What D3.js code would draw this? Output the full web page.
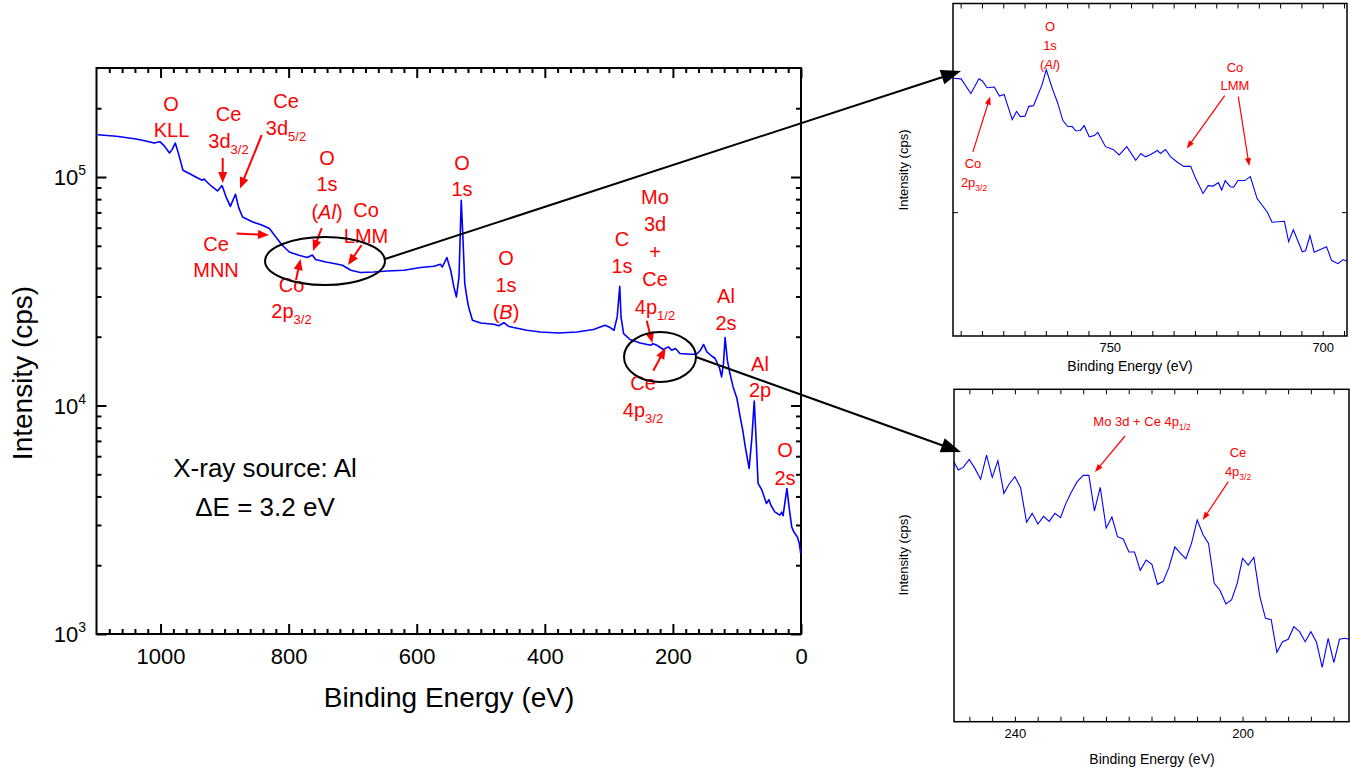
<!DOCTYPE html>
<html>
<head>
<meta charset="utf-8">
<script src="https://cdn.jsdelivr.net/npm/d3@7"></script>
<style>
  body { margin: 0; background: #fff; }
  svg { font-family: "Liberation Sans", Arial, sans-serif; }
</style>
</head>
<body>
<script>
// survey spectrum (binding energy in eV, counts per second)
var surveyEnergy = [1098, 1069, 1038, 1023, 1010, 1001, 995, 986, 982, 977, 972, 965, 953, 945, 935, 932, 926, 919, 911, 904,
  898, 891, 883, 878, 872, 856, 841, 830, 820, 810, 799, 784, 771, 763, 758, 742, 729, 716, 703, 688,
  667, 646, 620, 594, 573, 563, 560, 553, 547, 542, 538, 534, 530.5, 527.7, 525, 521, 519, 513, 500, 480,
  472, 464, 457, 449, 428, 407, 378, 350, 324, 306, 298, 292, 287, 283, 281, 277, 267, 251, 235, 231,
  225, 215, 207, 202, 196, 189, 173, 163, 157, 152, 147, 139, 134, 127, 124, 121, 118.5, 115, 111, 106,
  100, 95, 91, 87, 81, 77, 73, 70, 67, 61, 54, 50, 47, 41, 33, 30, 28, 22, 19, 14.5,
  11.7, 9.4, 5.8, 2.6, 0.5];
var surveyCounts = [153000, 150700, 146600, 143700, 140800, 142800, 137600, 127400, 131800, 140800, 126600, 107000, 102750, 100000, 96740, 98000, 94130, 90440, 86890, 91720,
  82340, 74430, 84010, 73470, 66830, 63550, 61480, 59470, 54640, 50260, 46980, 45460, 44410, 45590, 43530, 42490, 41810, 41100, 39080, 38180,
  38410, 38800, 39080, 40150, 40680, 41500, 40390, 44410, 39080, 33020, 29860, 36530, 79070, 52860, 34180, 28880, 27000, 23610, 22980, 22680,
  22340, 23030, 22230, 21940, 21350, 20990, 20780, 20990, 21500, 22460, 21940, 21350, 24420, 33260, 24420, 20650, 19450, 18790, 18360, 18640,
  18360, 17580, 18050, 17460, 17760, 16880, 16760, 16760, 17460, 18490, 17160, 16430, 16060, 14520, 13340, 15310, 19840, 15790, 13800, 12060,
  10730, 8916, 7798, 6591, 5302, 7051, 10470, 7051, 4558, 4261, 3727, 3872, 3664, 3424, 3312, 3414, 3296, 4335, 3664, 2944,
  2819, 2754, 2662, 2490, 2252];

// zoom on the Co 2p / Co LMM region
var zoomAEnergy = [786.8, 784.9, 782.6, 780.7, 779.9, 778.8, 777.1, 775.9, 774.8, 772.9, 771.9, 771.0, 769.9, 769.0, 767.9, 765.9, 764.9, 763.5, 762.3, 761.0,
  759.9, 758.8, 758.0, 756.9, 756.0, 754.8, 753.6, 752.8, 751.0, 749.2, 747.8, 746.0, 743.9, 742.7, 741.6, 740.4, 738.8, 738.1, 736.9, 735.7,
  734.1, 732.6, 731.0, 729.9, 728.1, 726.9, 725.7, 724.5, 723.7, 722.9, 721.7, 720.9, 719.9, 718.3, 717.0, 715.4, 713.0, 711.9, 709.0, 708.0,
  706.9, 704.8, 704.0, 703.0, 702.0, 699.1, 697.9, 696.4, 695.2, 694.3];
var zoomACounts = [45792, 45764, 45094, 45764, 45667, 45355, 45387, 44972, 45049, 43921, 44282, 44054, 44072, 44511, 44542, 45483, 46187, 45327, 44709, 43877,
  43621, 43607, 43427, 43440, 43651, 43160, 43217, 43353, 42735, 42615, 42383, 42735, 42152, 42443, 42297, 42400, 42572, 42443, 42615, 42297,
  42067, 41894, 41894, 41410, 40763, 41085, 41068, 41210, 40903, 41297, 41043, 41027, 41297, 41297, 41464, 40553, 40000, 39594, 39634, 38826,
  39295, 38432, 38482, 39066, 38416, 38630, 38092, 37973, 38130, 38065];

// zoom on the Mo 3d / Ce 4p region
var zoomBEnergy = [250.72, 249.95, 249.08, 248.02, 247.03, 246.03, 244.98, 243.98, 242.99, 241.93, 241.0, 240.0, 239.0, 237.95, 236.96, 235.96, 234.97, 233.97, 232.97, 231.98,
  231.04, 230.05, 229.05, 228.0, 227.0, 226.03, 225.01, 223.96, 222.96, 221.97, 220.97, 219.97, 218.98, 217.98, 216.93, 215.93, 214.94, 213.94, 212.95, 211.89,
  210.9, 209.96, 208.97, 207.97, 206.92, 205.98, 204.98, 203.99, 202.93, 201.94, 200.94, 200.0, 199.01, 198.01, 196.96, 195.97, 194.97, 193.97, 192.98, 191.98,
  190.99, 189.99, 189.0, 188.0, 187.01, 186.01, 184.96, 183.96, 182.97, 182.03, 181.27];
var zoomBCounts = [18802, 18703, 18734, 18830, 18722, 18592, 18882, 18615, 18814, 18426, 18536, 18623, 18493, 18089, 18193, 18070, 18158, 18100, 18193, 18143,
  18309, 18446, 18564, 18639, 18639, 18220, 18497, 18024, 18150, 17924, 17898, 17750, 17750, 17544, 17660, 17611, 17388, 17421, 17574, 17807,
  17735, 17675, 17848, 18116, 17943, 17848, 17399, 17325, 17171, 17215, 17399, 17678, 17603, 17690, 17252, 17015, 17001, 16650, 16764, 16789,
  16925, 16871, 16764, 16871, 16757, 16492, 16800, 16541, 16789, 16800, 16789];

var surveyXTicks = [1000, 800, 600, 400, 200, 0];
var surveyYTicks = [1e3, 1e4, 1e5];
var zoomAXTicks = [750, 700];
var zoomBXTicks = [240, 200];

var svg = d3.select("body").append("svg")
    .attr("width", 1350)
    .attr("height", 772);

var red = "#ff0000", blue = "#0000ff";

// --- helpers ---
function label(g, x, yb, segs, size, color) {
    var t = g.append("text")
        .attr("x", x).attr("y", yb)
        .attr("text-anchor", "middle")
        .attr("font-size", size)
        .attr("fill", color || red);
    segs.forEach(function(s) {
        var str = typeof s === "string" ? s : s[0],
            st = typeof s === "string" ? null : s[1];
        var ts = t.append("tspan").text(str);
        if (st === "sub") ts.attr("font-size", size * 0.65).attr("dy", size * 0.3);
        if (st === "it") ts.attr("font-style", "italic");
    });
    return t;
}

function arrow(g, x1, y1, x2, y2, color, w, hl, hw) {
    var a = Math.atan2(y2 - y1, x2 - x1),
        bx = x2 - hl * Math.cos(a), by = y2 - hl * Math.sin(a);
    g.append("line")
        .attr("x1", x1).attr("y1", y1)
        .attr("x2", x2 - hl * 0.6 * Math.cos(a)).attr("y2", y2 - hl * 0.6 * Math.sin(a))
        .attr("stroke", color).attr("stroke-width", w);
    var px = -Math.sin(a) * hw / 2, py = Math.cos(a) * hw / 2;
    g.append("path")
        .attr("d", "M" + x2 + "," + y2 + "L" + (bx + px) + "," + (by + py) + "L" + (bx - px) + "," + (by - py) + "Z")
        .attr("fill", color);
}

// draws a framed plot with inward ticks on all four sides
function frame(g, x, y, o) {
    var x0 = x.range()[0], x1 = x.range()[1], yB = y.range()[0], yT = y.range()[1];
    function styleAxis(sel) {
        sel.select(".domain").remove();
        sel.selectAll("line").attr("stroke", "#000").attr("stroke-width", o.tickW);
    }
    var xMinor = d3.range(o.xMinorFrom, o.xMinorTo + 0.001, o.xMinorStep)
        .filter(function(v) { return o.xTicks.indexOf(v) < 0; });

    g.append("g").attr("transform", "translate(0," + yB + ")")
        .call(d3.axisBottom(x).tickValues(o.xTicks).tickSize(-o.major).tickPadding(o.pad).tickFormat(d3.format("d")))
        .call(styleAxis)
        .selectAll("text").attr("font-size", o.tickFont).attr("font-family", null).attr("fill", "#000");
    g.append("g").attr("transform", "translate(0," + yB + ")")
        .call(d3.axisBottom(x).tickValues(xMinor).tickSize(-o.minor).tickFormat(""))
        .call(styleAxis);
    g.append("g").attr("transform", "translate(0," + yT + ")")
        .call(d3.axisTop(x).tickValues(o.xTicks).tickSize(-o.major).tickFormat(""))
        .call(styleAxis);
    g.append("g").attr("transform", "translate(0," + yT + ")")
        .call(d3.axisTop(x).tickValues(xMinor).tickSize(-o.minor).tickFormat(""))
        .call(styleAxis);

    [[d3.axisLeft, x0], [d3.axisRight, x1]].forEach(function(p) {
        if (o.yTicks.length)
            g.append("g").attr("transform", "translate(" + p[1] + ",0)")
                .call(p[0](y).tickValues(o.yTicks).tickSize(-o.major).tickFormat(""))
                .call(styleAxis);
        if (o.yMinor.length)
            g.append("g").attr("transform", "translate(" + p[1] + ",0)")
                .call(p[0](y).tickValues(o.yMinor).tickSize(-o.minor).tickFormat(""))
                .call(styleAxis);
    });

    g.append("rect")
        .attr("x", x0).attr("y", yT)
        .attr("width", x1 - x0).attr("height", yB - yT)
        .attr("fill", "none").attr("stroke", "#000").attr("stroke-width", o.frameW);
}

function minorLog(lo, hi) {
    var out = [];
    for (var k = 0; k < 7; k++)
        for (var m = 2; m <= 9; m++) {
            var v = m * Math.pow(10, k);
            if (v > lo && v < hi) out.push(v);
        }
    return out;
}

function zip(a, b) { return a.map(function(v, i) { return [v, b[i]]; }); }

// --- main survey chart ---
var x = d3.scaleLinear().domain([1100, 0]).range([96.5, 801]);
var y = d3.scaleLog().domain([1e3, 3e5]).range([634, 68]);
var main = svg.append("g");

frame(main, x, y, {
    xTicks: surveyXTicks, xMinorFrom: 0, xMinorTo: 1080, xMinorStep: 20,
    yTicks: surveyYTicks, yMinor: minorLog(1e3, 3e5),
    major: 10, minor: 5, tickW: 2, frameW: 2, pad: 14, tickFont: 22
});

// y tick labels as powers of ten
main.append("g").selectAll("text")
    .data(surveyYTicks).enter()
    .append("text")
        .attr("x", 86).attr("y", function(d) { return y(d) + 8; })
        .attr("text-anchor", "end")
        .attr("font-size", 22)
        .each(function(d) {
            var t = d3.select(this);
            t.append("tspan").text("10");
            t.append("tspan").attr("dy", -10).attr("font-size", 14).text(Math.round(Math.log10(d)));
        });

main.append("path")
    .datum(zip(surveyEnergy, surveyCounts))
    .attr("fill", "none")
    .attr("stroke", blue)
    .attr("stroke-width", 1.6)
    .attr("stroke-linejoin", "round")
    .attr("d", d3.line().x(function(d) { return x(d[0]); }).y(function(d) { return y(d[1]); }));

main.append("text")
    .attr("x", 449).attr("y", 707)
    .attr("text-anchor", "middle").attr("font-size", 28)
    .text("Binding Energy (eV)");
main.append("text")
    .attr("transform", "translate(32,373) rotate(-90)")
    .attr("text-anchor", "middle").attr("font-size", 28)
    .text("Intensity (cps)");

main.append("text").attr("x", 265).attr("y", 477)
    .attr("text-anchor", "middle").attr("font-size", 26).text("X-ray source: Al");
main.append("text").attr("x", 265).attr("y", 516)
    .attr("text-anchor", "middle").attr("font-size", 26).text("\u0394E = 3.2 eV");

// peak labels
var surveyLabels = [
    [171, 111, ["O"]], [171.5, 137, ["KLL"]],
    [228.5, 121, ["Ce"]], [228.5, 148, ["3d", ["3/2", "sub"]]],
    [286, 108, ["Ce"]], [286, 135, ["3d", ["5/2", "sub"]]],
    [327, 165, ["O"]], [327, 191, ["1s"]], [327, 219, ["(", ["Al", "it"], ")"]],
    [366, 217, ["Co"]], [366, 243, ["LMM"]],
    [216, 251, ["Ce"]], [216, 277, ["MNN"]],
    [291.5, 292, ["Co"]], [291.5, 318, ["2p", ["3/2", "sub"]]],
    [462, 170, ["O"]], [462, 196, ["1s"]],
    [506, 265, ["O"]], [506, 292, ["1s"]], [506, 319, ["(", ["B", "it"], ")"]],
    [622, 246, ["C"]], [622, 273, ["1s"]],
    [655, 204, ["Mo"]], [655, 231, ["3d"]], [655, 259, ["+"]], [655, 286, ["Ce"]], [655, 314, ["4p", ["1/2", "sub"]]],
    [643, 390, ["Ce"]], [643, 417, ["4p", ["3/2", "sub"]]],
    [726, 303, ["Al"]], [726, 330, ["2s"]],
    [760, 371, ["Al"]], [760, 397, ["2p"]],
    [785, 457, ["O"]], [785, 485, ["2s"]]
];
surveyLabels.forEach(function(l) { label(main, l[0], l[1], l[2], 20); });

var ann = svg.append("g");
[[222.7, 158, 222.7, 183], [261.7, 135, 240, 188.5], [321.7, 228, 313, 251],
 [361.7, 245, 348, 265], [236.7, 233.5, 269, 235], [296, 280, 300.5, 259],
 [646.7, 320.7, 652.3, 343], [653.3, 370.7, 665.5, 348]
].forEach(function(a) { arrow(ann, a[0], a[1], a[2], a[3], red, 2, 11, 9); });

// circled regions and the pointers to the zooms
ann.append("ellipse").attr("cx", 325).attr("cy", 261).attr("rx", 60).attr("ry", 24)
    .attr("fill", "none").attr("stroke", "#000").attr("stroke-width", 2);
ann.append("ellipse").attr("cx", 660).attr("cy", 357).attr("rx", 36).attr("ry", 25)
    .attr("fill", "none").attr("stroke", "#000").attr("stroke-width", 2);
arrow(ann, 385, 259, 961, 71, "#000", 2, 20, 15);
arrow(ann, 696, 357, 961, 452, "#000", 2, 20, 15);

// --- zoom A (upper right) ---
var xa = d3.scaleLinear().domain([786.8, 694.3]).range([953, 1347]);
var ya = d3.scaleLog().domain([35300, 49380]).range([336, 3.5]);
var insA = svg.append("g");
insA.append("path")
    .datum(zip(zoomAEnergy, zoomACounts))
    .attr("fill", "none").attr("stroke", blue).attr("stroke-width", 1.1)
    .attr("d", d3.line().x(function(d) { return xa(d[0]); }).y(function(d) { return ya(d[1]); }));
frame(insA, xa, ya, {
    xTicks: zoomAXTicks, xMinorFrom: 695, xMinorTo: 785, xMinorStep: 5,
    yTicks: [], yMinor: minorLog(35300, 49380),
    major: 5, minor: 5, tickW: 1, frameW: 1.5, pad: 7, tickFont: 13
});
insA.append("text").attr("x", 1130).attr("y", 371)
    .attr("text-anchor", "middle").attr("font-size", 14).text("Binding Energy (eV)");
insA.append("text").attr("transform", "translate(908,170) rotate(-90)")
    .attr("text-anchor", "middle").attr("font-size", 13).text("Intensity (cps)");
[[1050, 31, ["O"]], [1050, 50, ["1s"]], [1050, 69, ["(", ["Al", "it"], ")"]],
 [1235, 71.5, ["Co"]], [1235, 89.5, ["LMM"]],
 [973, 168, ["Co"]], [974, 187, ["2p", ["3/2", "sub"]]]
].forEach(function(l) { label(insA, l[0], l[1], l[2], 13); });
arrow(insA, 1224.7, 95.6, 1186.8, 148.5, red, 1.2, 8, 6);
arrow(insA, 1238.3, 96.6, 1249.2, 166, red, 1.2, 8, 6);
arrow(insA, 972.9, 151.9, 990.2, 96.6, red, 1.2, 8, 6);

// --- zoom B (lower right) ---
var xb = d3.scaleLinear().domain([250.7, 181.3]).range([954, 1349]);
var yb = d3.scaleLog().domain([15930, 19690]).range([721.7, 389.3]);
var insB = svg.append("g");
insB.append("path")
    .datum(zip(zoomBEnergy, zoomBCounts))
    .attr("fill", "none").attr("stroke", blue).attr("stroke-width", 1.1)
    .attr("d", d3.line().x(function(d) { return xb(d[0]); }).y(function(d) { return yb(d[1]); }));
frame(insB, xb, yb, {
    xTicks: zoomBXTicks, xMinorFrom: 184, xMinorTo: 248, xMinorStep: 4,
    yTicks: [], yMinor: minorLog(15930, 19690),
    major: 5, minor: 5, tickW: 1, frameW: 1.5, pad: 7, tickFont: 13
});
insB.append("text").attr("x", 1152).attr("y", 764)
    .attr("text-anchor", "middle").attr("font-size", 14).text("Binding Energy (eV)");
insB.append("text").attr("transform", "translate(908,555) rotate(-90)")
    .attr("text-anchor", "middle").attr("font-size", 13).text("Intensity (cps)");
label(insB, 1142, 426, ["Mo 3d + Ce 4p", ["1/2", "sub"]], 13);
label(insB, 1238, 457, ["Ce"], 13);
label(insB, 1238, 476, ["4p", ["3/2", "sub"]], 13);
arrow(insB, 1125, 436, 1095, 472, red, 1.2, 8, 6);
arrow(insB, 1228.3, 481.7, 1202.7, 520, red, 1.2, 8, 6);
</script>
</body>
</html>
